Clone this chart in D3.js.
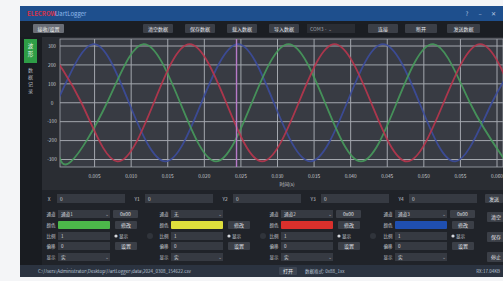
<!DOCTYPE html>
<meta charset="utf-8">
<style>
body { margin: 0; background: #f4f5f7; }
svg text { font-family: "Noto Sans CJK SC", "Noto Sans", sans-serif; }
</style>
<body>
<script src="https://cdn.jsdelivr.net/npm/d3@7"></script>
<script>

// axis ticks
var yTicks = [300, 200, 100, 0, -100, -200, -300];
var xTicks = [5, 10, 15, 20, 25, 30, 35, 40, 45, 50, 55, 60];
var xTickLabels = ["0.005", "0.010", "0.015", "0.020", "0.025", "0.030",
                   "0.035", "0.040", "0.045", "0.050", "0.055", "0.060"];

// waveforms: [time ms, value]
var greenWave = [[0, -265], [1.8, -310], [6.7, 0], [11.7, 310], [16.7, 0], [21.6, -310],
                 [26.5, 0], [31.5, 310], [36.5, 0], [41.4, -310], [46.3, 0], [51.3, 310],
                 [56.3, 0], [61.2, -310]];
var redWave = [[-1.8, 310], [3.2, 0], [8.1, -310], [13.1, 0], [18.0, 310], [23.0, 0],
               [27.9, -310], [32.9, 0], [37.8, 310], [42.8, 0], [47.7, -310], [52.7, 0],
               [57.7, 310], [62.6, 0]];
var blueWave = [[-5.1, -310], [-0.2, 0], [4.8, 310], [9.7, 0], [14.7, -310], [19.6, 0],
                [24.6, 310], [29.5, 0], [34.5, -310], [39.5, 0], [44.4, 310], [49.4, 0],
                [54.3, -310], [59.3, 0], [64.2, 310]];
var cursorTimes = [24.4];

// ui texts
var toolButtons = ["清空数据", "保存数据", "载入数据", "导入数据"];
var inputLabels = ["X", "Y1", "Y2", "Y3", "Y4"];
var channelNames = ["通道1", "无", "通道2", "通道3"];
var channelColors = ["#4cb84a", "#dede3c", "#d8302c", "#1f4fb0"];
var rowLabels = ["通道", "颜色", "比例", "偏移", "显示"];

var W = 503, H = 281;
var svg = d3.select("body").append("svg")
    .attr("width", W)
    .attr("height", H);

// window frame
svg.append("rect").attr("x", 20).attr("y", 6).attr("width", W - 20).attr("height", 271)
    .attr("fill", "#202329");
// title bar
svg.append("rect").attr("x", 20).attr("y", 6).attr("width", W - 20).attr("height", 15)
    .attr("fill", "#1e4f8d");
svg.append("text").attr("x", 27).attr("y", 16).text("ELECROW")
    .attr("font-size", 6).attr("font-weight", "bold").attr("fill", "#d8334a");
svg.append("text").attr("x", 55).attr("y", 16).text("UartLogger")
    .attr("font-size", 6).attr("fill", "#8fb8ea");
["?", "–", "✕"].forEach(function (s, i) {
    svg.append("text").attr("x", 467 + i * 13).attr("y", 16).text(s)
        .attr("font-size", 6).attr("text-anchor", "middle").attr("fill", "#b8c8e0");
});

// toolbar
svg.append("rect").attr("x", 20).attr("y", 21).attr("width", W - 20).attr("height", 16)
    .attr("fill", "#1b1e23");
function button(x, y, w, h, label, bg, fg) {
    svg.append("rect").attr("x", x).attr("y", y).attr("width", w).attr("height", h)
        .attr("rx", 1).attr("fill", bg || "#3b3f47");
    svg.append("text").attr("x", x + w / 2).attr("y", y + h / 2 + 2)
        .attr("text-anchor", "middle").attr("font-size", 5).attr("fill", fg || "#e4e6ea")
        .text(label);
}
button(33, 24, 31, 9, "接收/设置", "#6a6e76", "#f0f0f0");
toolButtons.forEach(function (s, i) {
    button(143 + i * 42, 24, 30, 9, s);
});
svg.append("rect").attr("x", 307).attr("y", 24).attr("width", 48).attr("height", 9)
    .attr("fill", "#2a2d33");
svg.append("text").attr("x", 310).attr("y", 30.5).text("COM3 - ⌄")
    .attr("font-size", 5).attr("fill", "#9a9ea6");
button(368, 24, 30, 9, "连接");
button(405, 24, 32, 9, "断开");
button(447, 24, 33, 9, "发送数据");

// left sidebar
svg.append("rect").attr("x", 20).attr("y", 37).attr("width", 22).attr("height", 240)
    .attr("fill", "#191c21");
svg.append("rect").attr("x", 24).attr("y", 39).attr("width", 13).attr("height", 24)
    .attr("fill", "#2e9d46");
["波", "形"].forEach(function (c, i) {
    svg.append("text").attr("x", 30.5).attr("y", 48 + i * 8).text(c)
        .attr("font-size", 5.5).attr("text-anchor", "middle").attr("fill", "#e8f5ea");
});
["数", "据", "记", "录"].forEach(function (c, i) {
    svg.append("text").attr("x", 30.5).attr("y", 72 + i * 7).text(c)
        .attr("font-size", 5).attr("text-anchor", "middle").attr("fill", "#b5b9c0");
});

// chart
var plot = {left: 60, right: W, top: 39, bottom: 167};
var x = d3.scaleLinear().domain([0, 60]).range([58, 497]);
var y = d3.scaleLinear().domain([-300, 300]).range([159.5, 46]);

svg.append("rect").attr("x", 42).attr("y", 37).attr("width", W - 42).attr("height", 156)
    .attr("fill", "#2a2d33");
svg.append("rect").attr("x", plot.left).attr("y", plot.top)
    .attr("width", plot.right - plot.left).attr("height", plot.bottom - plot.top)
    .attr("fill", "#383b43");

svg.append("defs").append("clipPath").attr("id", "clip")
    .append("rect").attr("x", plot.left).attr("y", plot.top)
    .attr("width", plot.right - plot.left).attr("height", plot.bottom - plot.top);

// grid
svg.append("g").selectAll("line").data(yTicks).enter().append("line")
    .attr("x1", plot.left).attr("x2", plot.right)
    .attr("y1", function (d) { return y(d); }).attr("y2", function (d) { return y(d); })
    .attr("stroke", "#a3a7ae").attr("stroke-width", 1);
svg.append("g").selectAll("line").data(xTicks).enter().append("line")
    .attr("x1", function (d) { return x(d); }).attr("x2", function (d) { return x(d); })
    .attr("y1", plot.top).attr("y2", plot.bottom)
    .attr("stroke", "#a3a7ae").attr("stroke-width", 1);
svg.append("rect").attr("x", plot.left).attr("y", plot.top)
    .attr("width", plot.right - plot.left).attr("height", plot.bottom - plot.top)
    .attr("fill", "none").attr("stroke", "#a3a7ae").attr("stroke-width", 0.8);

// axes labels
svg.append("g").selectAll("text").data(yTicks).enter().append("text")
    .attr("x", 52).attr("y", function (d) { return y(d) + 1.8; })
    .attr("text-anchor", "middle").attr("font-size", 4.8).attr("fill", "#c9ccd2")
    .text(function (d) { return d; });
svg.append("g").selectAll("text").data(xTicks).enter().append("text")
    .attr("x", function (d) { return x(d); }).attr("y", 178)
    .attr("text-anchor", "middle").attr("font-size", 4.8).attr("fill", "#c9ccd2")
    .text(function (d, i) { return xTickLabels[i]; });
svg.append("text").attr("x", 287).attr("y", 186).text("时间(s)")
    .attr("text-anchor", "middle").attr("font-size", 4.8).attr("fill", "#c9ccd2");

// waves
var line = d3.line()
    .x(function (d) { return x(d[0]); })
    .y(function (d) { return y(d[1]); })
    .curve(d3.curveNatural);
var waves = svg.append("g").attr("clip-path", "url(#clip)");
[[blueWave, "#3c4c9c"], [greenWave, "#479a5c"], [redWave, "#b8364e"]].forEach(function (w) {
    waves.append("path").datum(w[0]).attr("d", line)
        .attr("fill", "none").attr("stroke", w[1]).attr("stroke-width", 1.8)
        .attr("stroke-opacity", 0.9);
});
waves.selectAll(".cursor").data(cursorTimes).enter().append("line")
    .attr("x1", function (d) { return x(d); }).attr("x2", function (d) { return x(d); })
    .attr("y1", plot.top).attr("y2", plot.bottom)
    .attr("stroke", "#b77ac8").attr("stroke-width", 1.4);

// input row
svg.append("rect").attr("x", 42).attr("y", 190).attr("width", W - 42).attr("height", 87)
    .attr("fill", "#202329");
inputLabels.forEach(function (s, i) {
    var x0 = 45 + i * 88;
    svg.append("text").attr("x", x0 + 4).attr("y", 200.5).text(s)
        .attr("font-size", 4.8).attr("text-anchor", "middle").attr("fill", "#c9ccd2");
    svg.append("rect").attr("x", x0 + 12).attr("y", 194).attr("width", 68).attr("height", 9)
        .attr("fill", "#363a42");
    svg.append("text").attr("x", x0 + 15).attr("y", 200.5).text("0")
        .attr("font-size", 4.8).attr("fill", "#d5d8dd");
});
button(485, 194, 18, 9, "发送");

// channel panels
var panelX = [43, 156, 266, 380];
var rowY = [210, 221, 232, 242, 253];
panelX.forEach(function (px, k) {
    rowLabels.forEach(function (s, r) {
        svg.append("text").attr("x", px + 8).attr("y", rowY[r] + 5.5).text(s)
            .attr("font-size", 4.5).attr("text-anchor", "middle").attr("fill", "#c9ccd2");
    });
    // dropdown
    svg.append("rect").attr("x", px + 15).attr("y", rowY[0]).attr("width", 52).attr("height", 8)
        .attr("fill", "#363a42");
    svg.append("text").attr("x", px + 18).attr("y", rowY[0] + 5.7).text(channelNames[k])
        .attr("font-size", 4.6).attr("fill", "#d5d8dd");
    svg.append("text").attr("x", px + 62).attr("y", rowY[0] + 5.5).text("⌄")
        .attr("font-size", 4.6).attr("fill", "#a0a4ab");
    if (k !== 1) button(px + 70, rowY[0], 25, 8, "0x00");
    // colour bar
    svg.append("rect").attr("x", px + 15).attr("y", rowY[1]).attr("width", 52).attr("height", 8)
        .attr("rx", 1).attr("fill", channelColors[k]);
    button(px + 72, rowY[1], 22, 8, "修改");
    // scale
    svg.append("rect").attr("x", px + 15).attr("y", rowY[2]).attr("width", 52).attr("height", 8)
        .attr("fill", "#363a42");
    svg.append("text").attr("x", px + 18).attr("y", rowY[2] + 5.7).text("1")
        .attr("font-size", 4.6).attr("fill", "#d5d8dd");
    svg.append("circle").attr("cx", px + 73).attr("cy", rowY[2] + 4).attr("r", 1.6)
        .attr("fill", "#d5d8dd");
    svg.append("text").attr("x", px + 76).attr("y", rowY[2] + 5.7).text("显示")
        .attr("font-size", 4.6).attr("fill", "#d5d8dd");
    // offset
    svg.append("rect").attr("x", px + 15).attr("y", rowY[3]).attr("width", 52).attr("height", 8)
        .attr("fill", "#363a42");
    svg.append("text").attr("x", px + 18).attr("y", rowY[3] + 5.7).text("0")
        .attr("font-size", 4.6).attr("fill", "#d5d8dd");
    button(px + 72, rowY[3], 22, 8, "设置");
    // display
    svg.append("rect").attr("x", px + 15).attr("y", rowY[4]).attr("width", 52).attr("height", 8)
        .attr("fill", "#363a42");
    svg.append("text").attr("x", px + 18).attr("y", rowY[4] + 5.7).text("实")
        .attr("font-size", 4.6).attr("fill", "#d5d8dd");
    svg.append("text").attr("x", px + 62).attr("y", rowY[4] + 5.5).text("⌄")
        .attr("font-size", 4.6).attr("fill", "#a0a4ab");
    if (k < 3) {
        svg.append("circle").attr("cx", px + 107).attr("cy", rowY[2] + 4).attr("r", 3)
            .attr("fill", "#30343b");
    }
});
["清空", "保存", "停止"].forEach(function (s, i) {
    button(487, 212 + i * 20, 18, 10, s);
});

// status bar
svg.append("rect").attr("x", 20).attr("y", 265).attr("width", W - 20).attr("height", 12)
    .attr("fill", "#2b3340");
svg.append("text").attr("x", 38).attr("y", 273).attr("font-size", 4.5).attr("fill", "#b9c4d4")
    .text("C:\\Users\\Administrator\\Desktop\\UartLogger\\data\\2024_0308_154622.csv");
button(279, 267, 18, 8, "打开", "#3d4552");
svg.append("text").attr("x", 305).attr("y", 273).attr("font-size", 4.5).attr("fill", "#b9c4d4")
    .text("数据格式: 0x88_1xx");
svg.append("text").attr("x", 500).attr("y", 273).attr("font-size", 4.5).attr("fill", "#b9c4d4")
    .attr("text-anchor", "end").text("RX:17.04KB");

</script>
</body>
